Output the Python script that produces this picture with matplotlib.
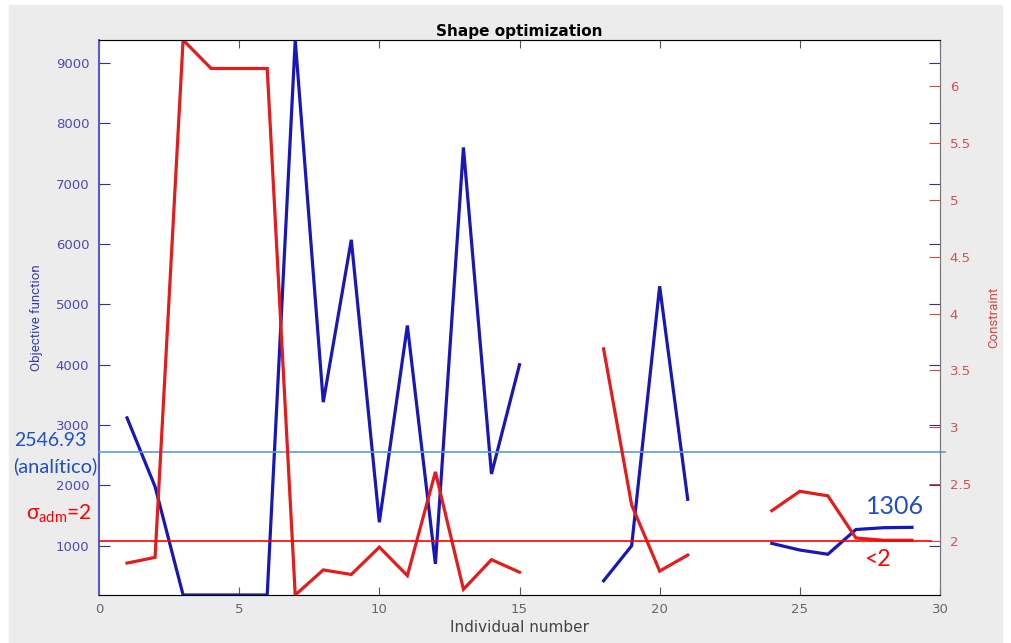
import numpy as np
import matplotlib.pyplot as plt
from matplotlib.patches import Rectangle

# objective function and constraint per individual (NaN = individual not evaluated)
individual = np.arange(1, 30)
objective = [3120, 1980, 185, 185, 185, 185, 9380, 3380, 6070, 1390,
             4650, 700, 7600, 2190, 4000, np.nan, np.nan, 420, 1000, 5300,
             1770, np.nan, np.nan, 1040, 930, 860, 1270, 1300, 1306]
constraint = [1.81, 1.86, 6.40, 6.15, 6.15, 6.15, 1.53, 1.75, 1.71, 1.95,
              1.70, 2.61, 1.58, 1.84, 1.73, np.nan, np.nan, 3.69, 2.32, 1.74,
              1.88, np.nan, np.nan, 2.27, 2.44, 2.40, 2.03, 2.01, 2.01]
analytic_value = 2546.93
sigma_adm = 2
best_value = 1306

W, H = 1011, 643
fig = plt.figure(figsize=(W / 100, H / 100), dpi=100, facecolor='white')
fig.patches.append(Rectangle((9 / W, 0), (1002 - 9) / W, (H - 5) / H,
                             transform=fig.transFigure, color='#ececec', zorder=-10))

ax1 = fig.add_axes([99 / W, 1 - 595 / H, (940 - 99) / W, (595 - 40) / H])
ax1.set_facecolor('white')
ax2 = ax1.twinx()

ax1.plot(individual, objective, color='#1818b8', lw=2.3, solid_joinstyle='miter')
ax2.plot(individual, constraint, color='#e41c1c', lw=2.3, solid_joinstyle='miter')

ax1.set_xlim(0, 30)
ax1.set_ylim(np.nanmin(objective), np.nanmax(objective))
ax2.set_ylim(np.nanmin(constraint), np.nanmax(constraint))
ax1.set_xticks(np.arange(0, 31, 5))
ax1.set_yticks(np.arange(1000, 9001, 1000))
ax2.set_yticks(np.arange(2, 6.01, 0.5))
ax2.set_yticklabels(['2', '2.5', '3', '3.5', '4', '4.5', '5', '5.5', '6'])

ax1.tick_params(axis='x', direction='in', length=6, top=True, color='#555555',
                labelcolor='#666666', labelsize=9.5, pad=6)
ax1.tick_params(axis='y', direction='in', length=8, right=True, color='#33337a',
                labelcolor='#4a4ab8', labelsize=9.5, pad=7)
ax2.tick_params(axis='y', direction='in', length=8, color='#d04848',
                labelcolor='#d45050', labelsize=9.5, pad=7)

ax1.spines['left'].set_color('#5a5ad0')
ax1.spines['left'].set_linewidth(1.5)
for s in ('bottom', 'top', 'right'):
    ax1.spines[s].set_color('#777777')
ax2.spines['right'].set_color('#777777')
ax2.spines['left'].set_visible(False)

ax1.set_title('Shape optimization', fontsize=11, fontweight='bold', pad=3)
ax1.set_xlabel('Individual number', fontsize=11, color='#444444', labelpad=3)
narrow = ['Roboto', 'DejaVu Sans']
ax1.set_ylabel('Objective function', family=narrow, fontsize=9.5, color='#3a3aa8', labelpad=9)
ax2.set_ylabel('Constraint', family=narrow, fontsize=9.5, color='#d04848', labelpad=12)

# reference levels
ax1.axhline(analytic_value, xmin=0, xmax=1.006, color='#5b9bd5', lw=1.2,
            clip_on=False, zorder=5)
ax2.axhline(sigma_adm, xmin=0, xmax=0.989, color='#ff0000', lw=1.2, zorder=5)

ann = ['Lato', 'DejaVu Sans']
fig.text(14 / W, 1 - 441 / H, f'{analytic_value:.2f}', family=ann, fontsize=14,
         color='#1f4fc4', va='center', ha='left')
fig.text(13 / W, 1 - 466 / H, '(analítico)', family=ann, fontsize=14.5,
         color='#1f4fc4', va='center', ha='left')
fig.text(26 / W, 1 - 514 / H, r'$\mathregular{\sigma_{adm}}$=' + str(sigma_adm),
         family=ann, fontsize=15, color='#ff0000', va='center', ha='left')
fig.text(866 / W, 1 - 506 / H, str(best_value), family=ann, fontsize=18,
         color='#1f4fc4', va='center', ha='left')
fig.text(864 / W, 1 - 560 / H, '<' + str(sigma_adm), family=ann, fontsize=16.5,
         color='#ff0000', va='center', ha='left')

fig.savefig('out.png', dpi=100, facecolor=fig.get_facecolor())
